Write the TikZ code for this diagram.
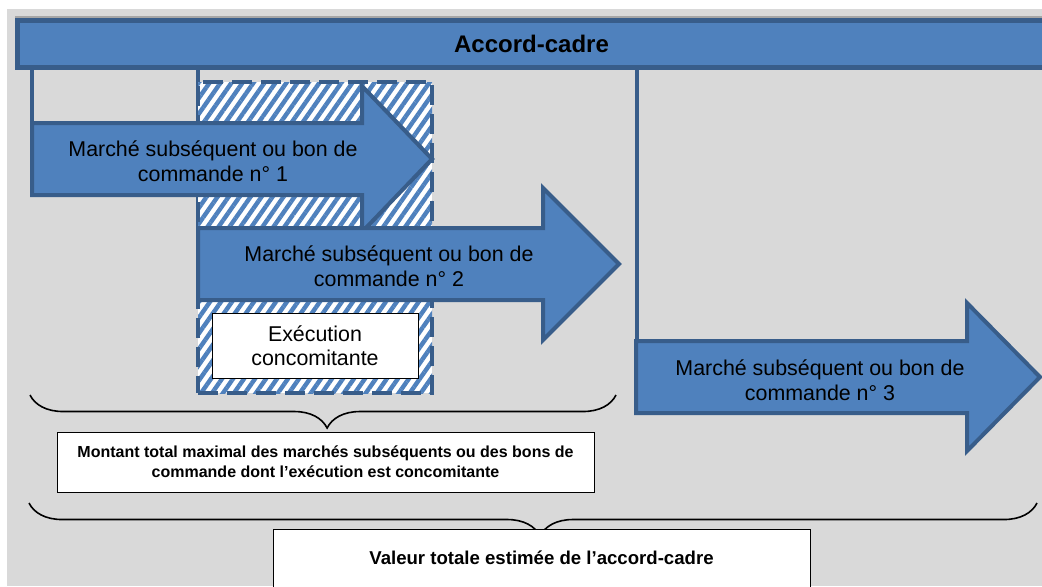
\documentclass[tikz,border=0pt]{standalone}
\usepackage{fontspec}
\setmainfont{Liberation Sans}
\usetikzlibrary{patterns.meta, decorations.pathreplacing}
\definecolor{accblue}{RGB}{79, 129, 189}
\definecolor{accedge}{RGB}{56, 93, 138}
\definecolor{bggray}{RGB}{217, 217, 217}

\begin{document}
\begin{tikzpicture}[x=0.5pt, y=-0.5pt,
  bar/.style={draw=accedge, line width=2.5pt, fill=accblue, minimum width=514pt, minimum height=23.5pt, inner sep=0pt, font=\fontsize{12}{14}\selectfont\bfseries},
  arrowbody/.style={draw=accedge, line width=2pt, fill=accblue, line join=miter},
  label/.style={align=center, inner sep=0pt, font=\fontsize{10.7}{12.5}\selectfont},
  link/.style={draw=accedge, line width=2pt},
  hatchbox/.style={draw=accedge, line width=2pt, dash pattern=on 10pt off 4.5pt, preaction={fill=white}, pattern={Lines[angle=55, distance=4.5pt, line width=2.2pt]}, pattern color=accblue, minimum width=117pt, minimum height=155.5pt, inner sep=0pt},
  textbox/.style={draw=black, line width=0.5pt, fill=white, align=center, inner sep=0pt},
  bracket/.style={draw=black, line width=0.8pt, decorate, decoration={brace, mirror, amplitude=16.5pt, aspect=0.507}},
]
  \useasboundingbox (0,0) rectangle (1042,586);
  \clip (0,0) rectangle (1042,586);
  \fill[bggray] (7,9) rectangle (1042,586);
  \draw[gray!70, line width=0.6pt] (15,17) -- (1042,17);

  % framework agreement bar
  \node[bar] (ac) at (531.5,44) {Accord-cadre};

  % arrow corners
  \coordinate (m1top) at (32,123);
  \coordinate (m2top) at (198,228);
  \coordinate (m3top) at (637,341);
  \draw[link] (ac.south -| m1top) -- (m1top);
  \draw[link] (ac.south -| m2top) -- (m2top);
  \draw[link] (ac.south -| m3top) -- (m3top);

  % concurrent execution zone
  \node[hatchbox] (cc) at (315,237.5) {};

  \draw[arrowbody] (32,123) -- (362,123) -- (362,86) -- (432,159) -- (362,232) -- (362,195) -- (32,195) -- cycle;
  \node[label] (m1) at (213,161) {Marché subséquent ou bon de\\commande n° 1};

  \draw[arrowbody] (198,228) -- (543,228) -- (543,188) -- (619,264) -- (543,340) -- (543,300) -- (198,300) -- cycle;
  \node[label] (m2) at (389,266) {Marché subséquent ou bon de\\commande n° 2};

  \node[textbox, minimum width=103pt, minimum height=32.5pt, font=\fontsize{10.7}{12}\selectfont] (ex) at (315,345.5) {Exécution\\concomitante};

  \draw[arrowbody] (636,341) -- (967,341) -- (967,303) -- (1040,377) -- (967,451) -- (967,413) -- (636,413) -- cycle;
  \node[label] (m3) at (820,380) {Marché subséquent ou bon de\\commande n° 3};

  % braces and totals
  \coordinate (b1l) at (30,395);
  \coordinate (b1r) at (616,395);
  \coordinate (b2l) at (29,503);
  \coordinate (b2r) at (1037,503);
  \draw[bracket] (b1l) -- (b1r);
  \draw[bracket] (b2l) -- (b2r);

  \node[textbox, minimum width=268.5pt, minimum height=30pt, font=\fontsize{8}{10}\selectfont\bfseries] (mt) at (325.5,462) {Montant total maximal des marchés subséquents ou des bons de\\commande dont l’exécution est concomitante};
  \node[textbox, minimum width=268.5pt, minimum height=29pt, font=\fontsize{9.3}{11}\selectfont\bfseries] (vt) at (541.5,558) {Valeur totale estimée de l’accord-cadre};
\end{tikzpicture}
\end{document}
